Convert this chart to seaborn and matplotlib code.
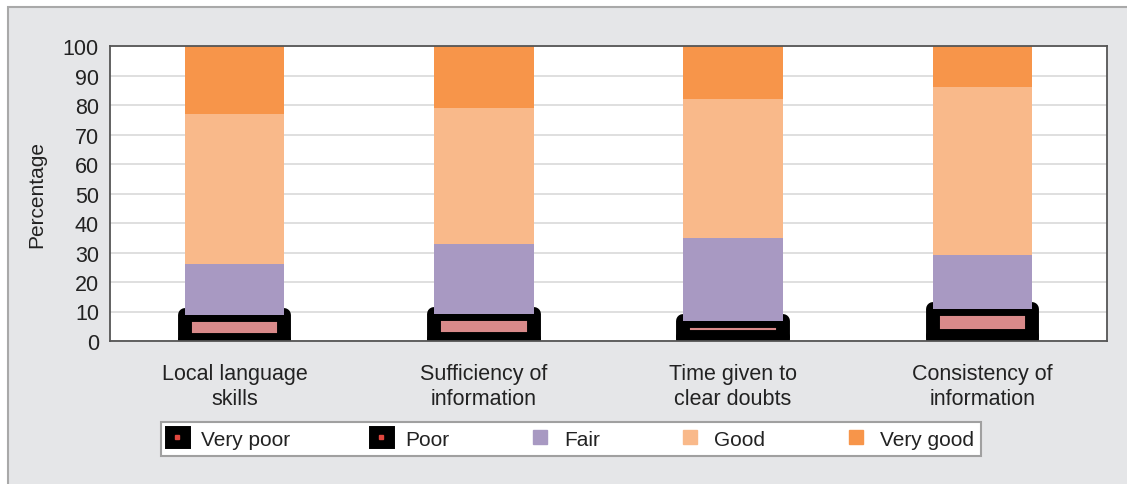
import numpy as np
import pandas as pd
import matplotlib.pyplot as plt
import seaborn as sns
from matplotlib.patches import Patch, Rectangle
from matplotlib.lines import Line2D

# data (percent)
categories = ['Local language\nskills', 'Sufficiency of\ninformation',
              'Time given to\nclear doubts', 'Consistency of\ninformation']
poor = [0.3, 0.6, 1.3, 1.7]
very_poor = [8.5, 8.6, 5.4, 9.2]
fair = [17.2, 23.8, 28.3, 18.1]
good = [51, 46, 47, 57]
very_good = [23, 21, 18, 14]

df = pd.DataFrame({'category': categories, 'Poor': poor, 'Very poor': very_poor,
                   'Fair': fair, 'Good': good, 'Very good': very_good})

pink = '#d98a8a'
c_fair = '#a899c2'
c_good = '#f9b98a'
c_vgood = '#f7954a'

sns.set_style('white')
plt.rcParams['font.family'] = ['Liberation Sans', 'DejaVu Sans']

fig = plt.figure(figsize=(11.27, 4.85), dpi=100)
fig.patches.append(Rectangle((8 / 1127, -0.01), 1.02, 1 - 8 / 485 + 0.01,
                             transform=fig.transFigure, facecolor='#e5e6e8',
                             edgecolor='#a9a9a9', lw=1.5, zorder=-10))
ax = fig.add_axes([110 / 1127, 1 - 342 / 485, (1107 - 110) / 1127, (342 - 47) / 485])
ax.set_facecolor('white')

# stacked bars, bottom layer first
layers = [
    ('Poor', 'black', 'black', 10, 2),
    ('Very poor', pink, 'black', 10, 3),
    ('Fair', c_fair, 'none', 0, 4),
    ('Good', c_good, 'none', 0, 4),
    ('Very good', c_vgood, 'none', 0, 4),
]
bottom = np.zeros(len(categories))
for name, face, edge, lw, z in layers:
    sns.barplot(data=df, x='category', y=name, bottom=bottom.copy(), color=face,
                saturation=1, edgecolor=edge, linewidth=lw, joinstyle='round',
                width=0.4, errorbar=None, zorder=z, ax=ax)
    bottom = bottom + df[name].values

ax.set_xlim(-0.5, 3.5)
ax.set_ylim(0, 100)
ax.set_yticks(np.arange(0, 101, 10))
ax.yaxis.grid(True, color='#dcdcdc', lw=1.3)
ax.set_axisbelow(True)
for s in ax.spines.values():
    s.set_color('#555555')
    s.set_linewidth(1.3)
    s.set_zorder(10)

ax.set_xticks(range(len(categories)))
ax.set_xticklabels(categories, fontsize=15.5, color='#222222', linespacing=1.25)
ax.set_xticks([-0.5, 0.5, 1.5, 2.5, 3.5], minor=True)
ax.tick_params(axis='x', which='major', length=0, pad=16)
ax.tick_params(axis='x', which='minor', length=8, width=1.2, color='#555555', direction='out')
ax.tick_params(axis='y', length=6, width=1.2, color='#555555', direction='out',
               labelsize=15.5, labelcolor='#222222', pad=2)
ax.set_xlabel('')
ax.set_ylabel('Percentage', fontsize=15, color='#222222', labelpad=12)

# legend
dot = dict(ls='', marker='s', ms=2.5, color='#e0473f')
handles = [
    (Patch(facecolor='black', edgecolor='black', lw=5, joinstyle='round'), Line2D([], [], **dot)),
    (Patch(facecolor='black', edgecolor='black', lw=5, joinstyle='round'), Line2D([], [], **dot)),
    Line2D([], [], ls='', marker='s', ms=10, color=c_fair),
    Line2D([], [], ls='', marker='s', ms=10, color=c_good),
    Line2D([], [], ls='', marker='s', ms=10, color=c_vgood),
]
labels = ['Very poor', 'Poor', 'Fair', 'Good', 'Very good']
leg = fig.legend(handles, labels, loc='center', bbox_to_anchor=(571 / 1127, 1 - 440 / 485),
                 bbox_transform=fig.transFigure, ncol=5, fontsize=15, frameon=True,
                 fancybox=False, edgecolor='#a0a0a0', framealpha=1,
                 handlelength=0.9, handleheight=0.8, handletextpad=0.7,
                 columnspacing=3.9, borderpad=0.35)
leg.get_frame().set_linewidth(1.5)
for t in leg.get_texts():
    t.set_color('#222222')

fig.savefig('out.png', dpi=100, facecolor='white')
